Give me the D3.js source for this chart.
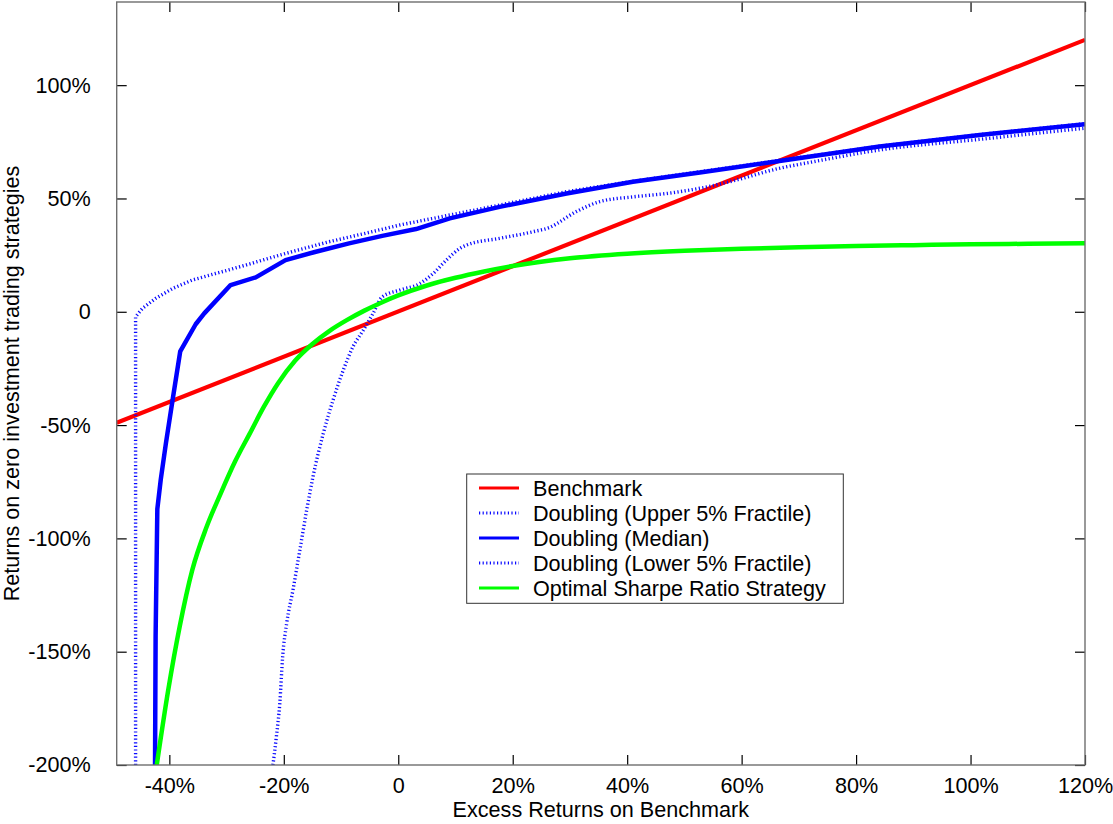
<!DOCTYPE html>
<html>
<head>
<meta charset="utf-8">
<script src="https://cdn.jsdelivr.net/npm/d3@7/dist/d3.min.js"></script>
<style>
  html, body { margin: 0; padding: 0; background: #fff; }
  svg { display: block; }
  text { font-family: "Liberation Sans", Arial, sans-serif; fill: #000; }
</style>
</head>
<body>
<svg id="chart" width="1113" height="824"></svg>
<script>
// ---------------- data ----------------
const xTicks = [-40, -20, 0, 20, 40, 60, 80, 100, 120];
const yTicks = [-200, -150, -100, -50, 0, 50, 100];

const benchX = [-49.2, 120];
const benchY = [-49.0, 120];

const upperX = [-45.9, -45.9, -44.7, -42.4, -39.4, -36.0, -31.9, -27.2, -22.6, -17.9, -12.1, -6.3, 0.3, 9.0, 17.7, 29.4, 41.0, 52.7, 66.6, 84.1, 101.6, 120];
const upperY = [-200, -2.2, 1.5, 5.9, 10.3, 14.0, 16.9, 20.2, 23.6, 27.0, 30.9, 34.3, 38.3, 42.7, 47.1, 53.0, 57.6, 61.8, 66.8, 73.1, 78.2, 83.0];

const medianX = [-42.5, -42.4, -42.1, -41.5, -40.6, -39.5, -38.1, -35.4, -33.9, -29.3, -24.9, -19.7, -14.4, -8.6, -2.8, 3.1, 9.0, 17.7, 29.4, 41.0, 52.7, 66.6, 84.1, 101.6, 120];
const medianY = [-200, -143, -87, -74, -58, -40, -17.5, -5.5, -0.7, 11.8, 15.2, 22.8, 26.5, 30.2, 33.5, 36.5, 41.2, 46.3, 52.2, 57.4, 61.5, 66.5, 72.9, 78.0, 82.8];

const lowerX = [-21.9, -21.3, -20.7, -20.2, -19.5, -18.4, -17.2, -16.0, -14.9, -13.1, -11.4, -9.6, -7.9, -6.1, -4.4, -2.8, 0.3, 3.8, 6.1, 8.4, 10.8, 11.9, 17.7, 23.5, 26.4, 31.1, 35.2, 41.0, 46.9, 52.7, 57.9, 66.6, 72.5, 84.1, 101.6, 120];
const lowerY = [-200, -187.5, -172.8, -152.2, -137.5, -122.8, -105.2, -87.5, -72.8, -53.7, -39.0, -25.7, -15.4, -8.1, -0.7, 6.6, 9.6, 12.5, 16.9, 22.8, 28.0, 29.4, 32.4, 35.3, 37.2, 44.2, 48.6, 50.7, 52.2, 54.5, 57.4, 63.3, 66.2, 71.4, 76.1, 81.0];

const sharpeX = [-42.2, -40.2, -38.2, -36.0, -33.5, -31.0, -28.5, -26.0, -23.5, -21.0, -18.0, -15.0, -12.0, -9.0, -6.0, -3.0, 0, 5, 10, 15, 20, 30, 40, 50, 60, 70, 80, 90, 100, 110, 120];
const sharpeY = [-200, -167, -139, -114, -95, -80, -66, -54, -42, -31.5, -21.5, -14.2, -8.4, -3.7, 0.4, 4.0, 7.2, 11.6, 15.0, 17.8, 20.2, 23.6, 25.6, 26.9, 27.8, 28.5, 29.0, 29.4, 29.8, 30.0, 30.2];

const legendLabels = ["Benchmark", "Doubling (Upper 5% Fractile)", "Doubling (Median)", "Doubling (Lower 5% Fractile)", "Optimal Sharpe Ratio Strategy"];

// ---------------- layout ----------------
const L = 116.7, R = 1085, T = 2, B = 765;
const svg = d3.select("#chart");
const x = d3.scaleLinear().domain([-49.2, 120]).range([L, R]);
const y = d3.scaleLinear().domain([-200, 136.7]).range([B, T]);
const fmt = d => d === 0 ? "0" : d + "%";

const styles = [
  {color: "#ff0000", width: 4.2, dash: null, curve: d3.curveLinear},
  {color: "#0a0aff", width: 3.4, dash: "1.2,2.4", curve: d3.curveLinear},
  {color: "#0000ff", width: 4.5, dash: null, curve: d3.curveLinear},
  {color: "#0a0aff", width: 3.4, dash: "1.2,2.4", curve: d3.curveMonotoneX},
  {color: "#00ff00", width: 4.5, dash: null, curve: d3.curveMonotoneX}
];

svg.append("defs").append("clipPath").attr("id", "clip")
  .append("rect").attr("x", L).attr("y", T).attr("width", R - L).attr("height", B - T);

// axes
const fontSize = 21.6;
const gx = svg.append("g").attr("transform", `translate(0,${B})`)
  .call(d3.axisBottom(x).tickValues(xTicks).tickFormat(fmt).tickSizeInner(-10).tickSizeOuter(0).tickPadding(13));
const gxt = svg.append("g").attr("transform", `translate(0,${T})`)
  .call(d3.axisTop(x).tickValues(xTicks).tickFormat("").tickSizeInner(-10).tickSizeOuter(0));
const gy = svg.append("g").attr("transform", `translate(${L},0)`)
  .call(d3.axisLeft(y).tickValues(yTicks).tickFormat(fmt).tickSizeInner(-10).tickSizeOuter(0).tickPadding(26));
const gyr = svg.append("g").attr("transform", `translate(${R},0)`)
  .call(d3.axisRight(y).tickValues(yTicks).tickFormat("").tickSizeInner(-10).tickSizeOuter(0));
[gx, gxt, gy, gyr].forEach(g => {
  g.select(".domain").remove();
  g.selectAll(".tick line").attr("stroke", "#000").attr("stroke-width", 1.2);
  g.selectAll("text").attr("font-size", fontSize).attr("font-family", "Liberation Sans, Arial, sans-serif").attr("fill", "#000");
});

// lines
const series = [
  d3.zip(benchX, benchY),
  d3.zip(upperX, upperY),
  d3.zip(medianX, medianY),
  d3.zip(lowerX, lowerY),
  d3.zip(sharpeX, sharpeY)
];
const plot = svg.append("g").attr("clip-path", "url(#clip)");
series.forEach((s, i) => {
  const line = d3.line().x(d => x(d[0])).y(d => y(d[1])).curve(styles[i].curve);
  plot.append("path").datum(s).attr("d", line)
    .attr("fill", "none").attr("stroke", styles[i].color)
    .attr("stroke-width", styles[i].width)
    .attr("stroke-dasharray", styles[i].dash)
    .attr("stroke-linejoin", "round");
});

// frame
svg.append("rect").attr("x", L).attr("y", T).attr("width", R - L).attr("height", B - T)
  .attr("fill", "none").attr("stroke", "#6e6e6e").attr("stroke-width", 1.4);

// axis labels
svg.append("text").attr("x", (L + R) / 2).attr("y", 817).attr("text-anchor", "middle")
  .attr("font-size", fontSize).text("Excess Returns on Benchmark");
svg.append("text").attr("transform", `translate(19,${(T + B) / 2}) rotate(-90)`)
  .attr("text-anchor", "middle").attr("font-size", fontSize)
  .text("Returns on zero investment trading strategies");

// legend
const lg = svg.append("g");
lg.append("rect").attr("x", 466.7).attr("y", 474).attr("width", 376.6).attr("height", 129.3)
  .attr("fill", "#fff").attr("stroke", "#333").attr("stroke-width", 1);
legendLabels.forEach((lab, i) => {
  const yy = 488 + i * 25;
  lg.append("line").attr("x1", 479).attr("x2", 519).attr("y1", yy).attr("y2", yy)
    .attr("stroke", styles[i].color).attr("stroke-width", styles[i].dash ? 2.8 : 3)
    .attr("stroke-dasharray", styles[i].dash);
  lg.append("text").attr("x", 533).attr("y", yy).attr("dy", "0.35em")
    .attr("font-size", fontSize).text(lab);
});
</script>
</body>
</html>
